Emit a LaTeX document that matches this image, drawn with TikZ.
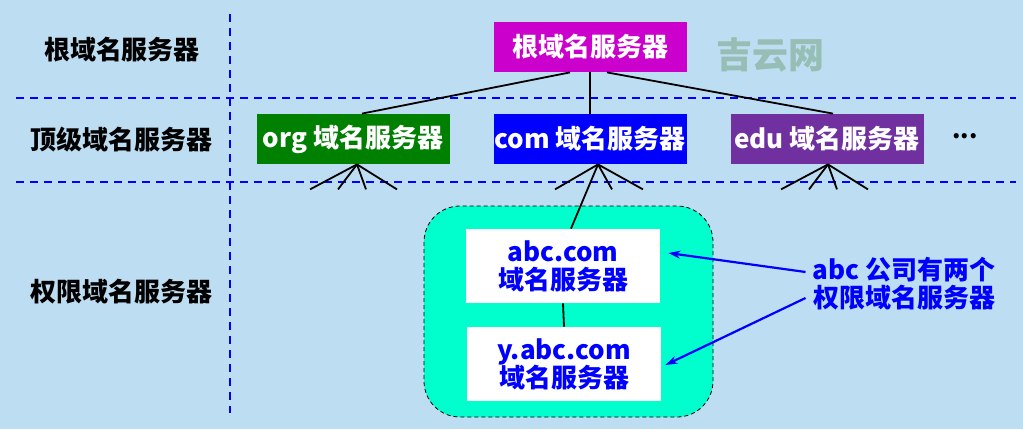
\documentclass[tikz,border=0pt]{standalone}
\usepackage{fontspec}
\setmainfont{Noto Sans CJK SC}
\usetikzlibrary{arrows.meta,positioning,calc}

\definecolor{bgblue}{RGB}{189,221,242}
\definecolor{rootmag}{RGB}{204,0,204}
\definecolor{orggreen}{RGB}{0,128,0}
\definecolor{edupurple}{RGB}{112,48,160}
\definecolor{zoneaqua}{RGB}{0,255,204}
\definecolor{markgray}{RGB}{150,190,180}

\begin{document}
\begin{tikzpicture}[x=0.5pt,y=-0.5pt,
    font=\fontsize{13pt}{15pt}\selectfont\bfseries,
    srvbox/.style={text=white,minimum width=96.5pt,minimum height=25pt,inner sep=0pt},
    authbox/.style={fill=white,text=blue,align=center,minimum width=97pt,minimum height=37pt,inner sep=0pt},
    sepline/.style={blue,line width=1.2pt,dash pattern=on 4pt off 3pt},
    link/.style={black,line width=0.9pt},
    pointer/.style={blue,line width=1.1pt,-{Stealth[length=6pt,width=4pt]}}]
  % background
  \useasboundingbox[fill=bgblue] (0,0) rectangle (1023,429);

  % layer separators
  \draw[sepline] (230,14) -- (230,413);
  \draw[sepline] (16,98) -- (1016,98);
  \draw[sepline] (16,182) -- (1016,182);

  % layer labels
  \node (lroot) at (122,50) {根域名服务器};
  \node (ltop) at (122,140) {顶级域名服务器};
  \node (lauth) at (122,292) {权限域名服务器};

  % watermark
  \node[text=markgray,font=\fontsize{18pt}{20pt}\selectfont\bfseries] (mark) at (770,55) {吉云网};

  % root and top level servers
  \node[srvbox,fill=rootmag] (root) at (590,47) {根域名服务器};
  \node[srvbox,fill=orggreen] (org) at (353,139) {org 域名服务器};
  \node[srvbox,fill=blue] (com) at (590,139) {com 域名服务器};
  \node[srvbox,fill=edupurple] (edu) at (827,139) {edu 域名服务器};
  \node[font=\fontsize{12pt}{14pt}\selectfont\bfseries] (more) at (965,136) {...};

  \draw[link] ([xshift=-10pt]root.south) -- ([xshift=4.5pt]org.north);
  \draw[link] (root.south) -- (com.north);
  \draw[link] ([xshift=8.5pt]root.south) -- ([xshift=3pt]edu.north);

  % branches below the top level
  \coordinate (orgfan) at ([xshift=2pt]org.south);
  \coordinate (comfan) at ([xshift=4pt]com.south);
  \coordinate (edufan) at ([xshift=0.5pt]edu.south);
  \foreach \dx in {-47,-19,9,40} {
    \draw[link] (orgfan) -- ++(\dx,25);
    \draw[link] (edufan) -- ++(\dx,25);
  }
  \foreach \dx in {-43,14,45} {
    \draw[link] (comfan) -- ++(\dx,25);
  }

  % authoritative zone of abc
  \draw[black,dash pattern=on 2pt off 1.5pt,fill=zoneaqua,rounded corners=18pt] (424,206) rectangle (713,417);
  \node[authbox] (abc) at (563,266) {abc.com\\[-1pt]域名服务器};
  \node[authbox] (yabc) at (564,364) {y.abc.com\\[-1pt]域名服务器};
  \draw[link] (comfan) -- ([xshift=4pt]abc.north);
  \draw[link] (abc.south) -- (yabc.north);

  % note
  \node[text=blue,align=center] (note) at (904,284) {abc 公司有两个\\[-1pt]权限域名服务器};
  \draw[pointer] ([yshift=6pt]note.west) -- ($(abc.east)+(8,-13)$);
  \draw[pointer] ([yshift=-7pt]note.west) -- ($(yabc.east)+(4,1)$);
\end{tikzpicture}
\end{document}
